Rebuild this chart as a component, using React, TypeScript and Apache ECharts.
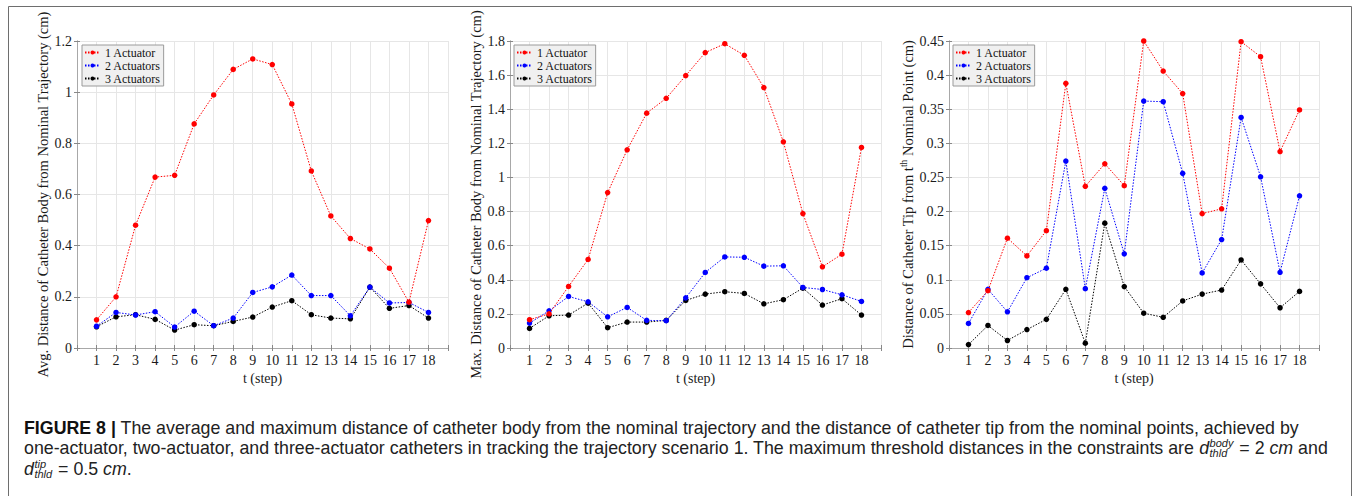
import React, { useEffect, useRef } from "react";
import * as echarts from "echarts";

const steps = [1, 2, 3, 4, 5, 6, 7, 8, 9, 10, 11, 12, 13, 14, 15, 16, 17, 18];
const seriesNames = ["1 Actuator", "2 Actuators", "3 Actuators"];
const seriesColors = ["#ff0000", "#0000ff", "#000000"];

// Panel 1: average distance of catheter body (cm)
const avgOne = [0.11, 0.2, 0.48, 0.668, 0.675, 0.876, 0.989, 1.089, 1.13, 1.108, 0.954, 0.692, 0.516, 0.428, 0.387, 0.312, 0.179, 0.498];
const avgTwo = [0.085, 0.139, 0.129, 0.142, 0.082, 0.144, 0.087, 0.117, 0.217, 0.239, 0.285, 0.205, 0.205, 0.126, 0.238, 0.176, 0.178, 0.139];
const avgThree = [0.083, 0.122, 0.13, 0.112, 0.07, 0.091, 0.087, 0.104, 0.121, 0.16, 0.185, 0.13, 0.117, 0.114, 0.238, 0.155, 0.166, 0.117];

// Panel 2: maximum distance of catheter body (cm)
const maxOne = [0.166, 0.2, 0.361, 0.519, 0.911, 1.162, 1.377, 1.464, 1.597, 1.732, 1.784, 1.716, 1.527, 1.209, 0.788, 0.476, 0.55, 1.176];
const maxTwo = [0.146, 0.218, 0.302, 0.271, 0.183, 0.238, 0.162, 0.16, 0.294, 0.443, 0.534, 0.532, 0.48, 0.482, 0.355, 0.343, 0.312, 0.273];
const maxThree = [0.115, 0.189, 0.193, 0.263, 0.119, 0.152, 0.152, 0.162, 0.279, 0.316, 0.33, 0.32, 0.259, 0.283, 0.351, 0.252, 0.289, 0.193];

// Panel 3: distance of catheter tip from t-th nominal point (cm)
const tipOne = [0.052, 0.084, 0.161, 0.135, 0.172, 0.388, 0.237, 0.27, 0.238, 0.45, 0.406, 0.373, 0.197, 0.204, 0.449, 0.427, 0.288, 0.349];
const tipTwo = [0.036, 0.086, 0.053, 0.103, 0.117, 0.274, 0.087, 0.234, 0.138, 0.362, 0.361, 0.256, 0.11, 0.159, 0.338, 0.251, 0.111, 0.223];
const tipThree = [0.005, 0.033, 0.011, 0.027, 0.042, 0.086, 0.007, 0.183, 0.09, 0.051, 0.045, 0.069, 0.079, 0.085, 0.129, 0.094, 0.059, 0.083];

const yMax = [1.2, 1.8, 0.45];
const yStep = [0.2, 0.2, 0.05];
const yNames = [
  "Avg. Distance of Catheter Body from Nominal Trajectory (cm)",
  "Max. Distance of Catheter Body from Nominal Trajectory (cm)",
  "Distance of Catheter Tip from t{sup|th} Nominal Point (cm)",
];
const xName = "t (step)";

const captionLine1 = "The average and maximum distance of catheter body from the nominal trajectory and the distance of catheter tip from the nominal points, achieved by";
const captionLine2 = "one-actuator, two-actuator, and three-actuator catheters in tracking the trajectory scenario 1. The maximum threshold distances in the constraints are ";

const SERIF = "'Liberation Serif', 'DejaVu Serif', serif";
const SANS = "'Liberation Sans', Arial, sans-serif";

function measure(text: string, font: string) {
  const ctx = document.createElement("canvas").getContext("2d")!;
  ctx.font = font;
  return ctx.measureText(text).width;
}

export default function App() {
  const ref = useRef<HTMLDivElement>(null);

  useEffect(() => {
    const chart = echarts.init(ref.current!, null, { renderer: "svg" });
    const panels = [
      [avgOne, avgTwo, avgThree],
      [maxOne, maxTwo, maxThree],
      [tipOne, tipTwo, tipThree],
    ];
    const grids = [
      { left: 77, top: 41, width: 371, height: 307 },
      { left: 510, top: 41, width: 371, height: 307 },
      { left: 949, top: 41, width: 370, height: 307 },
    ];
    const legendPos = [82, 514, 953];
    const yNameGap = [18.5, 15, 24];
    const boxColor = "#a8a8a8";
    const textColor = "#1a1a1a";

    const xAxis: any[] = [];
    const yAxis: any[] = [];
    const series: any[] = [];
    const legend: any[] = [];

    grids.forEach((g, i) => {
      xAxis.push({
        type: "value",
        gridIndex: i,
        min: 0,
        max: 19,
        interval: 1,
        name: xName,
        nameLocation: "middle",
        nameGap: 22,
        nameTextStyle: { fontFamily: SERIF, fontSize: 14, color: textColor },
        axisLine: { show: true, lineStyle: { color: boxColor } },
        axisTick: { show: true, inside: true, length: 3, lineStyle: { color: "#888" } },
        axisLabel: {
          fontFamily: SERIF,
          fontSize: 14,
          color: textColor,
          margin: 5,
          formatter: (v: number) => (v >= 1 && v <= 18 ? String(v) : ""),
        },
        splitLine: { show: true, lineStyle: { color: "#e6e6e6", width: 1 } },
      });
      xAxis.push({
        type: "value",
        gridIndex: i,
        position: "top",
        min: 0,
        max: 19,
        interval: 1,
        axisLine: { show: true, lineStyle: { color: boxColor } },
        axisTick: { show: true, inside: true, length: 3, lineStyle: { color: "#888" } },
        axisLabel: { show: false },
        splitLine: { show: false },
      });
      const yLabelFmt = (v: number) => {
        if (i === 2) return v === 0 ? "0" : String(Number(v.toFixed(2)));
        return v === 0 ? "0" : String(Number(v.toFixed(1)));
      };
      yAxis.push({
        type: "value",
        gridIndex: i,
        min: 0,
        max: yMax[i],
        interval: yStep[i],
        name: yNames[i],
        nameLocation: "middle",
        nameGap: yNameGap[i],
        nameTextStyle: {
          fontFamily: SERIF,
          fontSize: 14.5,
          color: textColor,
          rich: { sup: { fontFamily: SERIF, fontSize: 9.5, color: textColor, verticalAlign: "top", padding: [0, 0, 8, 0] } },
        },
        axisLine: { show: true, lineStyle: { color: boxColor } },
        axisTick: { show: true, inside: true, length: 3, lineStyle: { color: "#888" } },
        axisLabel: { fontFamily: SERIF, fontSize: 14, color: textColor, margin: 5, formatter: yLabelFmt },
        splitLine: { show: true, lineStyle: { color: "#e6e6e6", width: 1 } },
      });
      yAxis.push({
        type: "value",
        gridIndex: i,
        position: "right",
        min: 0,
        max: yMax[i],
        interval: yStep[i],
        axisLine: { show: true, lineStyle: { color: boxColor } },
        axisTick: { show: true, inside: true, length: 3, lineStyle: { color: "#888" } },
        axisLabel: { show: false },
        splitLine: { show: false },
      });
      panels[i].forEach((vals, k) => {
        series.push({
          type: "line",
          name: seriesNames[k],
          xAxisIndex: i * 2,
          yAxisIndex: i * 2,
          data: steps.map((s, j) => [s, vals[j]]),
          symbol: "circle",
          symbolSize: 5.5,
          itemStyle: { color: seriesColors[k] },
          lineStyle: { color: seriesColors[k], width: 1, type: [1.5, 1.5] },
          z: 10 - k,
        });
      });
      legend.push({
        show: true,
        left: legendPos[i],
        top: 45,
        orient: "vertical",
        itemGap: 0,
        itemWidth: 15,
        itemHeight: 5,
        padding: [1, 3, 1, 2],
        backgroundColor: "#f0f0f0",
        borderColor: "#9a9a9a",
        borderWidth: 1,
        borderRadius: 0,
        selectedMode: false,
        textStyle: { fontFamily: SERIF, fontSize: 12, lineHeight: 13, color: "#111" },
        data: seriesNames,
      });
    });

    // caption
    const capSize = 17.8;
    const capFont = `${capSize}px ${SANS}`;
    const smallSize = 11;
    const smallFont = `italic ${smallSize}px ${SANS}`;
    const capColor = "#222";
    const x0 = 24;
    const graphic: any[] = [
      {
        type: "rect",
        silent: true,
        shape: { x: 8.5, y: 6.5, width: 1343, height: 600 },
        style: { fill: "none", stroke: "#6e6e6e", lineWidth: 1 },
      },
      {
        type: "text",
        x: x0,
        y: 428,
        style: {
          text: "{b|FIGURE 8 |} " + captionLine1,
          font: capFont,
          fill: capColor,
          verticalAlign: "middle",
          rich: { b: { fontWeight: "bold", fontSize: capSize, fontFamily: SANS, fill: "#111" } },
        },
      },
      {
        type: "text",
        x: x0,
        y: 448,
        style: { text: captionLine2, font: capFont, fill: capColor, verticalAlign: "middle" },
      },
    ];
    const addSymbol = (xStart: number, y: number, sup: string, rest: string) => {
      const dFont = `italic ${capSize}px ${SANS}`;
      graphic.push({ type: "text", x: xStart, y, style: { text: "d", font: dFont, fill: capColor, verticalAlign: "middle" } });
      const sx = xStart + measure("d", dFont) + 0.5;
      graphic.push({ type: "text", x: sx, y: y - 5.5, style: { text: sup, font: smallFont, fill: capColor, verticalAlign: "middle" } });
      graphic.push({ type: "text", x: sx, y: y + 5, style: { text: "thld", font: smallFont, fill: capColor, verticalAlign: "middle" } });
      const rx = sx + Math.max(measure(sup, smallFont), measure("thld", smallFont)) + 1;
      graphic.push({
        type: "text",
        x: rx,
        y,
        style: {
          text: rest,
          font: capFont,
          fill: capColor,
          verticalAlign: "middle",
          rich: { i: { fontStyle: "italic", fontSize: capSize, fontFamily: SANS, fill: capColor } },
        },
      });
    };
    addSymbol(x0 + measure(captionLine2, capFont), 448, "body", " = 2 {i|cm} and");
    addSymbol(x0, 469, "tip", " = 0.5 {i|cm}.");

    chart.setOption({
      animation: false,
      backgroundColor: "#ffffff",
      grid: grids.map((g) => ({ ...g, containLabel: false, show: false })),
      xAxis,
      yAxis,
      legend,
      series,
      graphic,
    });
    return () => chart.dispose();
  }, []);

  return <div ref={ref} style={{ position: "fixed", left: 0, top: 0, width: 1356, height: 496 }} />;
}
